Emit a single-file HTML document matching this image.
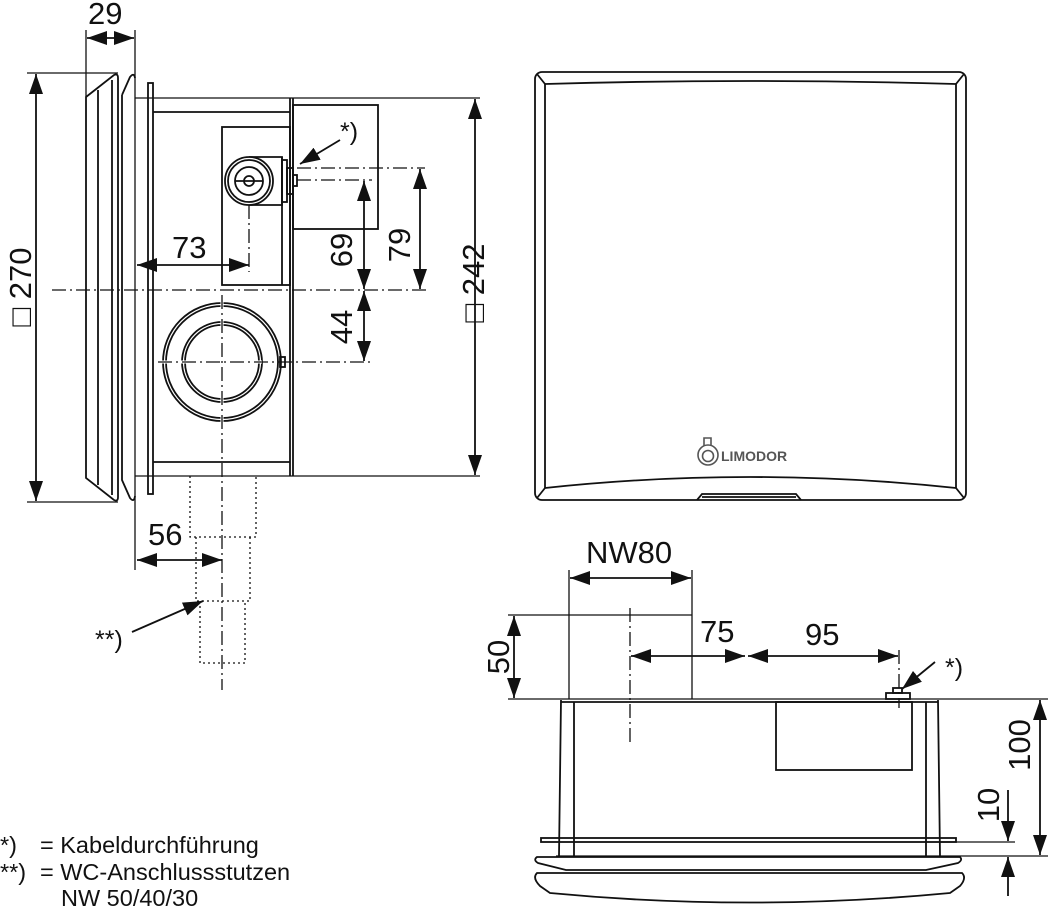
<!DOCTYPE html>
<html><head><meta charset="utf-8"><style>
html,body{margin:0;padding:0;background:#fff;}
svg{display:block;}
text{font-family:"Liberation Sans",Arial,sans-serif;fill:#111;}
</style></head><body>
<svg width="1048" height="909" viewBox="0 0 1048 909" xmlns="http://www.w3.org/2000/svg">
<defs>
<marker id="a" viewBox="0 0 20 14" refX="20" refY="7" markerWidth="20" markerHeight="14" markerUnits="userSpaceOnUse" orient="auto-start-reverse"><path d="M0,0 L20,7 L0,14 z" fill="#111"/></marker>
</defs>
<g fill="none" stroke="#111" stroke-width="1.8">
<line x1="27" y1="73" x2="118" y2="73" stroke-width="1.3"/>
<line x1="27" y1="502" x2="118" y2="502" stroke-width="1.3"/>
<line x1="36" y1="74" x2="36" y2="501" marker-start="url(#a)" marker-end="url(#a)"/>
<line x1="86" y1="30" x2="86" y2="97" stroke-width="1.3"/>
<line x1="135" y1="30" x2="135" y2="570" stroke-width="1.3"/>
<line x1="87" y1="38" x2="134" y2="38" marker-start="url(#a)" marker-end="url(#a)"/>
<path d="M86,97 L114,75 Q118,73 118,78 L118,497 Q118,502 114,500 L86,478 Z"/>
<line x1="98" y1="90" x2="98" y2="485"/>
<line x1="112" y1="80" x2="112" y2="495"/>
<path d="M122,95 L130,77 Q134,72 135,78 M122,95 L122,480 L130,498 Q134,503 135,496"/>
<rect x="148" y="83" width="5" height="411"/>
<line x1="135" y1="98" x2="480" y2="98" stroke-width="1.3"/>
<line x1="135" y1="476" x2="480" y2="476" stroke-width="1.3"/>
<line x1="153" y1="112" x2="290" y2="112"/>
<line x1="153" y1="462" x2="290" y2="462"/>
<line x1="290" y1="98" x2="290" y2="476"/>
<line x1="293" y1="98" x2="293" y2="476"/>
<rect x="293" y="105" width="85" height="124"/>
<rect x="222" y="127" width="68" height="158"/>
<line x1="282" y1="157" x2="282" y2="285"/>
<path d="M249,157 L282,157 L282,205 L249,205"/>
<rect x="282" y="160" width="5" height="42"/>
<rect x="287" y="168" width="6" height="26"/>
<rect x="293" y="175" width="4" height="11"/>
<circle cx="249" cy="181" r="24" fill="#fff"/>
<circle cx="249" cy="181" r="21"/>
<circle cx="249" cy="181" r="14"/>
<circle cx="249" cy="181" r="5"/>
<line x1="235" y1="181" x2="263" y2="181"/>
<circle cx="222" cy="362" r="59"/>
<circle cx="222" cy="362" r="56"/>
<circle cx="222" cy="362" r="40"/>
<circle cx="222" cy="362" r="37"/>
<rect x="280" y="357" width="5" height="10"/>
</g>
<g stroke="#fff" stroke-width="3">
<line x1="222" y1="300" x2="222" y2="326"/>
<line x1="222" y1="398" x2="222" y2="424"/>
<line x1="160" y1="362" x2="186" y2="362"/>
<line x1="258" y1="362" x2="262" y2="362"/>
</g>
<g fill="none" stroke="#111" stroke-width="1.3" stroke-dasharray="14 4 2 4">
<line x1="52" y1="290" x2="430" y2="290"/>
<line x1="158" y1="362" x2="372" y2="362"/>
<line x1="222" y1="295" x2="222" y2="690"/>
<line x1="249" y1="205" x2="249" y2="272"/>
<line x1="297" y1="168" x2="425" y2="168"/>
<line x1="297" y1="180" x2="372" y2="180"/>
</g>
<g fill="none" stroke="#111" stroke-width="1.8">
<line x1="137" y1="265" x2="249" y2="265" marker-start="url(#a)" marker-end="url(#a)"/>
<line x1="364" y1="181" x2="364" y2="289" marker-start="url(#a)" marker-end="url(#a)"/>
<line x1="364" y1="291" x2="364" y2="361" marker-start="url(#a)" marker-end="url(#a)"/>
<line x1="420" y1="169" x2="420" y2="289" marker-start="url(#a)" marker-end="url(#a)"/>
<line x1="475" y1="99" x2="475" y2="475" marker-start="url(#a)" marker-end="url(#a)"/>
<line x1="340" y1="140" x2="300" y2="164" marker-end="url(#a)"/>
<g stroke-dasharray="2 3" stroke-width="1.3">
<path d="M190,476 L190,537 L256,537 L256,476"/>
<path d="M196,537 L196,601 L250,601 L250,537"/>
<path d="M200,601 L200,663 L245,663 L245,601"/>
</g>
<line x1="137" y1="560" x2="222" y2="560" marker-start="url(#a)" marker-end="url(#a)"/>
<line x1="132" y1="632" x2="203" y2="601" marker-end="url(#a)"/>

<rect x="535" y="72" width="431" height="428" rx="7"/>
<path d="M545,84 Q750,78 956,84 L956,488 M545,84 L545,488"/>
<path d="M545,488 Q750,466 956,488"/>
<line x1="537" y1="74" x2="545" y2="84"/>
<line x1="964" y1="74" x2="956" y2="84"/>
<line x1="537" y1="498" x2="545" y2="488"/>
<line x1="964" y1="498" x2="956" y2="488"/>
<path d="M697,500 L702,494 L796,494 L801,500"/>
<line x1="702" y1="497" x2="796" y2="497"/>
<g stroke="#555" stroke-width="1.6">
<circle cx="708" cy="455" r="10"/>
<circle cx="708" cy="456" r="5.5"/>
<path d="M704,446 L704,438 L711,438 L711,446"/>
</g>

<line x1="569" y1="570" x2="569" y2="699" stroke-width="1.3"/>
<line x1="692" y1="570" x2="692" y2="699" stroke-width="1.3"/>
<line x1="570" y1="578" x2="691" y2="578" marker-start="url(#a)" marker-end="url(#a)"/>
<line x1="508" y1="615" x2="692" y2="615" stroke-width="1.3"/>
<line x1="514" y1="616" x2="514" y2="698" marker-start="url(#a)" marker-end="url(#a)"/>
<line x1="508" y1="699" x2="1048" y2="699" stroke-width="1.3"/>
<line x1="631" y1="656" x2="745" y2="656" marker-start="url(#a)" marker-end="url(#a)"/>
<line x1="748" y1="656" x2="898" y2="656" marker-start="url(#a)" marker-end="url(#a)"/>
<line x1="935" y1="662" x2="902" y2="689" marker-end="url(#a)"/>
<line x1="561" y1="702" x2="938" y2="702"/>
<path d="M561,700 L559,856 M574,702 L574,856 M926,702 L926,856 M938,700 L940,856"/>
<rect x="776" y="702" width="136" height="68"/>
<rect x="886" y="693" width="24" height="6"/>
<rect x="893" y="688" width="9" height="5"/>
<rect x="541" y="838" width="415" height="4"/>
<line x1="556" y1="856" x2="1048" y2="856" stroke-width="1.3"/>
<line x1="940" y1="842" x2="1015" y2="842" stroke-width="1.3"/>
<path d="M537,857 L960,857 Q963,860 958,863 L926,870 L566,870 L538,863 Q533,860 537,857 Z"/>
<path d="M537,873 L962,873 Q967,878 960,886 L950,893 Q750,912 550,893 L540,886 Q532,878 537,873 Z"/>
<line x1="1040" y1="700" x2="1040" y2="855" marker-start="url(#a)" marker-end="url(#a)"/>
<line x1="1008" y1="790" x2="1008" y2="841" marker-end="url(#a)"/>
<line x1="1008" y1="896" x2="1008" y2="857" marker-end="url(#a)"/>
</g>
<g stroke="#111" stroke-width="1.3" stroke-dasharray="14 4 2 4" fill="none">
<line x1="630" y1="608" x2="630" y2="745"/>
<line x1="899" y1="650" x2="899" y2="708"/>
</g>

<g font-size="31">
<text x="88" y="24">29</text>
<text x="172" y="258">73</text>
<text x="148" y="545">56</text>
<text x="586" y="563">NW80</text>
<text x="700" y="642">75</text>
<text x="805" y="645">95</text>
<text transform="translate(352,250) rotate(-90)" text-anchor="middle">69</text>
<text transform="translate(410,245) rotate(-90)" text-anchor="middle">79</text>
<text transform="translate(352,327) rotate(-90)" text-anchor="middle">44</text>
<text transform="translate(484,283) rotate(-90)" text-anchor="middle">□ 242</text>
<text transform="translate(31,287) rotate(-90)" text-anchor="middle">□ 270</text>
<text transform="translate(509,657) rotate(-90)" text-anchor="middle">50</text>
<text transform="translate(1030,745) rotate(-90)" text-anchor="middle">100</text>
<text transform="translate(999,805) rotate(-90)" text-anchor="middle">10</text>
</g>
<g font-size="25">
<text x="340" y="140">*)</text>
<text x="945" y="676">*)</text>
<text x="95" y="648">**)</text>
</g>
<text x="721" y="461" font-size="14" font-weight="bold" style="fill:#555">LIMODOR</text>
<g font-size="23.5">
<text x="0" y="853">*)</text><text x="40" y="853">= Kabeldurchführung</text>
<text x="0" y="880">**)</text><text x="40" y="880">= WC-Anschlussstutzen</text>
<text x="61" y="906">NW 50/40/30</text>
</g>
</svg>
</body></html>
